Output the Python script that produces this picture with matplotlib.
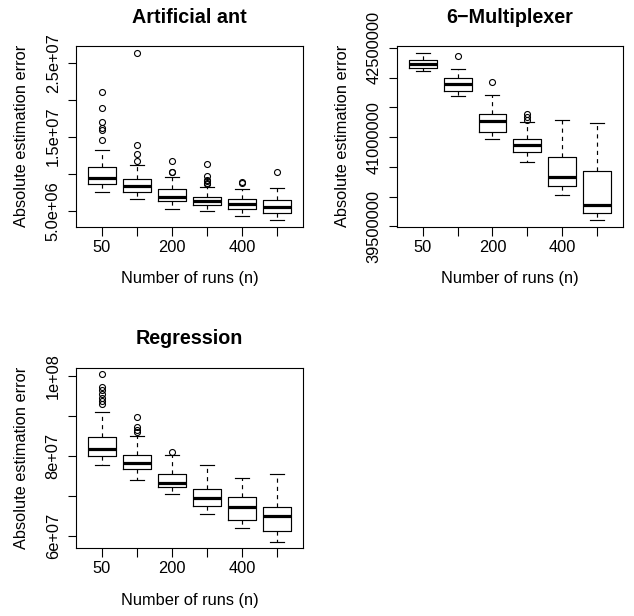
import matplotlib
matplotlib.use("Agg")
import matplotlib.pyplot as plt

plt.rcParams['font.family'] = ['Liberation Sans', 'DejaVu Sans']

# ---------------- data ----------------
positions = [1, 2, 3, 4, 5, 6]
x_tick_labels = ["50", "", "200", "", "400", ""]

# Artificial ant
ant_whislo = [7.59e6, 6.65e6, 5.27e6, 4.96e6, 4.33e6, 3.75e6]
ant_q1 = [8.59e6, 7.59e6, 6.34e6, 5.71e6, 5.23e6, 4.69e6]
ant_med = [9.39e6, 8.36e6, 6.84e6, 6.34e6, 5.94e6, 5.54e6]
ant_q3 = [1.087e7, 9.26e6, 7.92e6, 6.84e6, 6.65e6, 6.44e6]
ant_whishi = [1.324e7, 1.114e7, 9.61e6, 8.23e6, 8.00e6, 8.13e6]
ant_fliers = [
    [2.10e7, 1.884e7, 1.692e7, 1.611e7, 1.589e7, 1.454e7],
    [2.634e7, 1.383e7, 1.266e7, 1.172e7],
    [1.172e7, 1.028e7, 1.024e7],
    [1.136e7, 9.70e6, 9.17e6, 8.96e6, 8.76e6, 8.63e6],
    [8.90e6, 8.80e6],
    [1.02e7],
]
ant_yticks = [5e6, 1e7, 1.5e7, 2e7, 2.5e7]
ant_yticklabels = ["5.0e+06", "", "1.5e+07", "", "2.5e+07"]

# 6-Multiplexer
mux_whislo = [42.110e6, 41.696e6, 40.970e6, 40.585e6, 40.031e6, 39.607e6]
mux_q1 = [42.160e6, 41.770e6, 41.082e6, 40.752e6, 40.177e6, 39.725e6]
mux_med = [42.222e6, 41.887e6, 41.277e6, 40.864e6, 40.328e6, 39.859e6]
mux_q3 = [42.294e6, 41.988e6, 41.389e6, 40.965e6, 40.673e6, 40.434e6]
mux_whishi = [42.417e6, 42.143e6, 41.702e6, 41.260e6, 41.289e6, 41.233e6]
mux_fliers = [
    [],
    [42.366e6],
    [41.925e6],
    [41.389e6, 41.344e6, 41.289e6],
    [],
    [],
]
mux_yticks = [39.5e6, 40.0e6, 40.5e6, 41.0e6, 41.5e6, 42.0e6, 42.5e6]
mux_yticklabels = ["39500000", "", "", "41000000", "", "", "42500000"]

# Regression
reg_whislo = [7.775e7, 7.41e7, 7.05e7, 6.54e7, 6.21e7, 5.86e7]
reg_q1 = [8.0e7, 7.685e7, 7.2175e7, 6.76e7, 6.41e7, 6.125e7]
reg_med = [8.175e7, 7.825e7, 7.325e7, 6.95e7, 6.725e7, 6.51e7]
reg_q3 = [8.485e7, 8.0175e7, 7.55e7, 7.185e7, 6.975e7, 6.725e7]
reg_whishi = [9.1e7, 8.51e7, 8.02e7, 7.785e7, 7.46e7, 7.56e7]
reg_fliers = [
    [1.0043e8, 9.74e7, 9.64e7, 9.54e7, 9.45e7, 9.37e7, 9.29e7],
    [8.975e7, 8.725e7, 8.66e7, 8.6e7],
    [8.09e7],
    [],
    [],
    [],
]
reg_yticks = [6e7, 7e7, 8e7, 9e7, 1e8]
reg_yticklabels = ["6e+07", "", "8e+07", "", "1e+08"]

titles = ["Artificial ant", "6\u2212Multiplexer", "Regression"]
xlabel = "Number of runs (n)"
ylabel = "Absolute estimation error"

# ---------------- figure ----------------
W, H = 634, 616
fig = plt.figure(figsize=(W / 100, H / 100), dpi=100)


def axes_px(x0, y0, x1, y1):
    return fig.add_axes([x0 / W, 1 - y1 / H, (x1 - x0) / W, (y1 - y0) / H])


ax1 = axes_px(76, 46, 302.7, 226.7)
ax2 = axes_px(397, 46, 622.7, 226.7)
ax3 = axes_px(76, 367.7, 302.7, 548.3)

panels = [
    (ax1, ant_whislo, ant_q1, ant_med, ant_q3, ant_whishi, ant_fliers, ant_yticks, ant_yticklabels),
    (ax2, mux_whislo, mux_q1, mux_med, mux_q3, mux_whishi, mux_fliers, mux_yticks, mux_yticklabels),
    (ax3, reg_whislo, reg_q1, reg_med, reg_q3, reg_whishi, reg_fliers, reg_yticks, reg_yticklabels),
]

FS = 11.8
for i, (ax, wlo, q1, med, q3, whi, fl, yt, ytl) in enumerate(panels):
    stats = []
    for k in range(len(positions)):
        stats.append(dict(med=med[k], q1=q1[k], q3=q3[k], whislo=wlo[k],
                          whishi=whi[k], fliers=fl[k]))
    ax.bxp(stats, positions=positions, widths=0.8, capwidths=0.4,
           showfliers=True, patch_artist=False,
           boxprops=dict(color="black", linewidth=0.85),
           medianprops=dict(color="black", linewidth=2.3, solid_capstyle="butt"),
           whiskerprops=dict(color="black", linewidth=0.85, linestyle=(0, (3.5, 3.5))),
           capprops=dict(color="black", linewidth=0.85),
           flierprops=dict(marker="o", markerfacecolor="none",
                           markeredgecolor="black", markersize=4.3,
                           markeredgewidth=0.8, linestyle="none"))
    allv = [v for f in fl for v in f] + list(wlo) + list(whi)
    lo, hi = min(allv), max(allv)
    pad = 0.04 * (hi - lo)
    ax.set_ylim(lo - pad, hi + pad)
    ax.set_xlim(0.5 - 0.24, 6.5 + 0.24)

    ax.set_xticks(positions)
    ax.set_xticklabels(x_tick_labels, fontsize=FS)
    ax.set_yticks(yt)
    ax.set_yticklabels(ytl, fontsize=FS, rotation=90, va="center")
    ax.tick_params(axis="x", direction="out", length=6.5, width=0.8, pad=3)
    ax.tick_params(axis="y", direction="out", length=6.0, width=0.8, pad=5)
    for s in ax.spines.values():
        s.set_linewidth(0.8)

    ax.set_title(titles[i], fontsize=14.2, fontweight="bold", y=1.13,
                 va="baseline", pad=0)
    ax.set_xlabel(xlabel, fontsize=FS, va="center")
    ax.xaxis.set_label_coords(0.5, -0.289)
    ax.set_ylabel(ylabel, fontsize=FS, va="center")
    ax.yaxis.set_label_coords(-0.24, 0.5)

fig.savefig("out.png", dpi=100)
